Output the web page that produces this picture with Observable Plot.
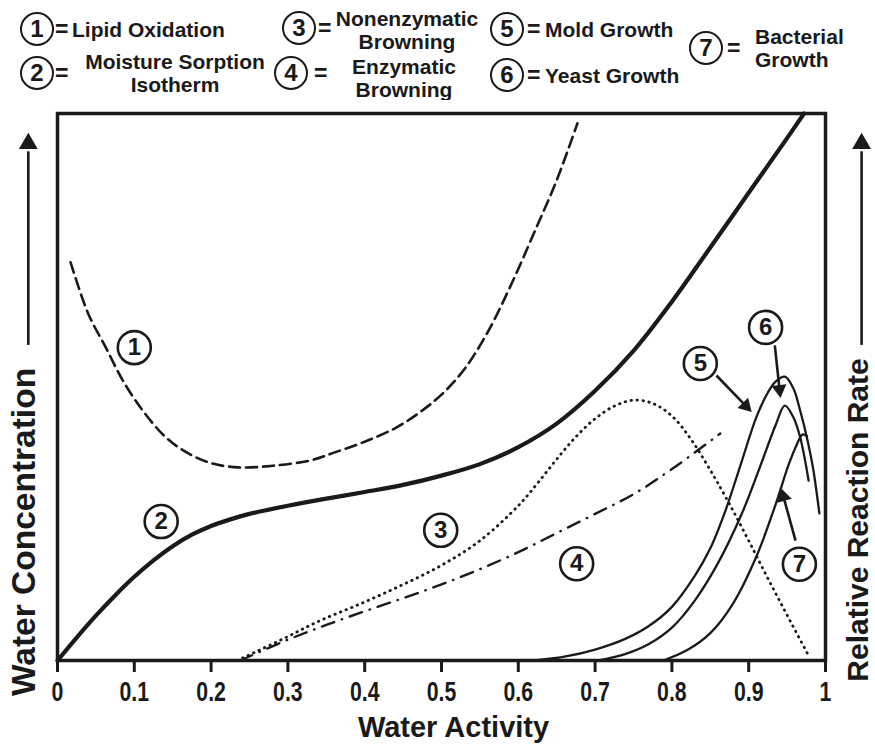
<!DOCTYPE html>
<html><head><meta charset="utf-8">
<script src="https://cdn.jsdelivr.net/npm/d3@7"></script>
<script src="https://cdn.jsdelivr.net/npm/@observablehq/plot@0.6"></script>
<style>
body{margin:0;background:#fff;}
#wrap{position:relative;width:875px;height:754px;font-family:"Liberation Sans",Arial,Helvetica,sans-serif;font-weight:bold;color:#1a1a1a;overflow:hidden;}
#legend{position:absolute;left:0;top:0;width:875px;height:100px;}
.c{position:absolute;box-sizing:border-box;width:34px;height:34px;border:2.6px solid #1a1a1a;border-radius:50%;text-align:center;line-height:29px;font-size:24px;transform:translate(-50%,-50%);}
.eq{position:absolute;font-size:23px;transform:translateY(-50%);line-height:23px;}
.t{position:absolute;font-size:21px;line-height:23px;white-space:nowrap;transform:translateY(-50%);}
#chart{position:absolute;left:0;top:100px;}
</style></head><body>
<div id="wrap"><div id="legend"></div><div id="chart"></div></div>
<script>
// ---------- data (water activity, relative value 0-100) ----------
const legendNumbers = ["1","2","3","4","5","6","7"];
const legendNames = [["Lipid Oxidation"],["Moisture Sorption","Isotherm"],["Nonenzymatic","Browning"],["Enzymatic","Browning"],["Mold Growth"],["Yeast Growth"],["Bacterial","Growth"]];

const lipidOxidation = [[0.017,72.8],[0.040,63.4],[0.063,57.2],[0.085,51.2],[0.111,45.7],[0.141,40.8],[0.171,37.8],[0.202,36.0],[0.236,35.3],[0.280,35.6],[0.330,36.6],[0.360,38.0],[0.400,40.0],[0.440,42.5],[0.470,45.2],[0.500,48.6],[0.530,53.3],[0.560,60.0],[0.590,68.5],[0.620,78.0],[0.650,87.8],[0.677,98.2]];
const sorptionIsotherm = [[0,0],[0.025,4.2],[0.050,8.2],[0.075,11.9],[0.100,15.3],[0.125,18.3],[0.150,20.9],[0.175,23.0],[0.200,24.6],[0.225,25.8],[0.250,26.8],[0.300,28.3],[0.350,29.6],[0.400,30.8],[0.450,32.1],[0.500,33.8],[0.550,35.9],[0.600,39.0],[0.650,43.3],[0.700,49.3],[0.750,56.6],[0.800,65.6],[0.850,75.5],[0.900,85.5],[0.950,95.5],[0.972,100]];
const nonenzymaticBrowning = [[0.234,0],[0.290,3.7],[0.342,7.3],[0.395,10.4],[0.447,13.7],[0.500,17.4],[0.550,21.9],[0.600,28.3],[0.625,32.4],[0.650,36.8],[0.675,40.9],[0.700,44.2],[0.725,46.5],[0.750,47.6],[0.775,47.0],[0.800,44.7],[0.825,40.4],[0.850,34.8],[0.875,28.6],[0.900,21.9],[0.925,15.0],[0.950,8.3],[0.978,0.9]];
const enzymaticBrowning = [[0.238,0],[0.300,3.8],[0.350,6.5],[0.400,9.0],[0.450,11.4],[0.500,13.9],[0.550,16.7],[0.600,19.8],[0.650,23.3],[0.700,26.8],[0.750,30.4],[0.800,35.0],[0.863,41.5]];
const moldGrowth = [[0.620,0],[0.660,0.7],[0.700,2.0],[0.740,4.0],[0.770,6.3],[0.800,9.8],[0.830,15.5],[0.850,20.5],[0.870,27.5],[0.890,36.0],[0.910,44.5],[0.925,49.0],[0.935,51.0],[0.947,51.9],[0.958,49.8],[0.967,45.7],[0.977,40.0],[0.984,35.0],[0.992,26.9]];
const yeastGrowth = [[0.705,0],[0.740,1.2],[0.770,3.0],[0.800,6.0],[0.830,11.0],[0.860,17.8],[0.890,26.5],[0.915,35.5],[0.935,43.0],[0.947,46.6],[0.958,44.5],[0.967,40.8],[0.978,32.9]];
const bacterialGrowth = [[0.789,0],[0.820,1.9],[0.850,5.0],[0.880,10.5],[0.910,19.0],[0.935,28.5],[0.952,35.8],[0.963,39.6],[0.970,41.3],[0.976,41.0]];

const xTicks = [0,0.1,0.2,0.3,0.4,0.5,0.6,0.7,0.8,0.9,1];
const xTickLabels = ["0","0.1","0.2","0.3","0.4","0.5","0.6","0.7","0.8","0.9","1"];

// circled curve numbers inside the plot (water activity, value)
const curveLabels = [{n:"1",x:0.100,y:57.2},{n:"2",x:0.135,y:25.4},{n:"3",x:0.499,y:23.8},{n:"4",x:0.676,y:17.7},{n:"5",x:0.837,y:54.3},{n:"6",x:0.922,y:60.9},{n:"7",x:0.966,y:17.6}];
const pointerFrom = [[0.858,52.1],[0.934,57.6],[0.961,21.9]];
const pointerTo = [[0.902,45.7],[0.941,48.4],[0.943,31.1]];

const xLabel = "Water Activity";
const yLabelLeft = "Water Concentration";
const yLabelRight = "Relative Reaction Rate";

// ---------- layout ----------
const W = 875, H = 654, mT = 13, mB = 94, mL = 57, mR = 50;
const sx = W - mL - mR, sy = (H - mT - mB) / 100;
const INK = "#1a1a1a";

// legend (HTML, above the SVG)
const legendLayout = [
  {c:[37,29], eq:55, t:72, ty:29, align:"left"},
  {c:[37,73], eq:55, t:175, ty:73, align:"center"},
  {c:[299,28], eq:318, t:407, ty:30, align:"center"},
  {c:[291,73], eq:314, t:404, ty:78, align:"center"},
  {c:[507,29], eq:527, t:545, ty:29, align:"left"},
  {c:[507,75], eq:527, t:545, ty:75, align:"left"},
  {c:[706,48], eq:727, t:755, ty:48, align:"left"}
];
const leg = document.getElementById("legend");
legendNumbers.forEach((n, i) => {
  const L = legendLayout[i];
  const c = document.createElement("div"); c.className = "c"; c.textContent = n;
  c.style.left = L.c[0] + "px"; c.style.top = L.c[1] + "px"; leg.appendChild(c);
  const e = document.createElement("div"); e.className = "eq"; e.textContent = "=";
  e.style.left = L.eq + "px"; e.style.top = L.c[1] + "px"; leg.appendChild(e);
  const t = document.createElement("div"); t.className = "t";
  t.innerHTML = legendNames[i].join("<br>");
  t.style.top = L.ty + "px"; t.style.textAlign = L.align;
  t.style.left = L.t + "px";
  if (L.align === "center") t.style.transform = "translate(-50%,-50%)";
  leg.appendChild(t);
});

// arrowheads: filled triangles placed back from the tip along the pointer direction
function headOf(from, to, r) {
  const dx = (to[0] - from[0]) * sx, dy = -(to[1] - from[1]) * sy;
  const len = Math.hypot(dx, dy), ux = dx / len, uy = dy / len;
  const back = 2 * Math.sqrt(Math.PI * r * r / (3 * Math.sqrt(3)));
  return {x: to[0] - ux * back * 0.75 / sx, y: to[1] + uy * back * 0.75 / sy, rot: Math.atan2(ux, -uy) * 180 / Math.PI};
}
const pointers = pointerFrom.map((f, i) => ({from: f, to: pointerTo[i], head: headOf(f, pointerTo[i], 5.5)}));

const lineOpts = {x: d => d[0], y: d => d[1], curve: "catmull-rom", stroke: INK};

const chart = Plot.plot({
  width: W, height: H,
  marginTop: mT, marginBottom: mB, marginLeft: mL, marginRight: mR,
  x: {domain: [0, 1]},
  y: {domain: [0, 100], axis: null},
  style: {fontFamily: "'Liberation Sans', Arial, Helvetica, sans-serif", fontWeight: "bold", color: INK, background: "white", overflow: "visible"},
  marks: [
    Plot.line(sorptionIsotherm, {...lineOpts, strokeWidth: 4.2}),
    Plot.line(lipidOxidation, {...lineOpts, strokeWidth: 2.6, strokeDasharray: "11 6"}),
    Plot.line(nonenzymaticBrowning, {...lineOpts, strokeWidth: 2.8, strokeDasharray: "0.5 5.5", strokeLinecap: "round"}),
    Plot.line(enzymaticBrowning, {...lineOpts, strokeWidth: 2.4, strokeDasharray: "13 8 0.5 8", strokeLinecap: "round"}),
    Plot.line(moldGrowth, {...lineOpts, strokeWidth: 2.3}),
    Plot.line(yeastGrowth, {...lineOpts, strokeWidth: 2.3}),
    Plot.line(bacterialGrowth, {...lineOpts, strokeWidth: 2.3}),
    Plot.frame({stroke: INK, strokeWidth: 3.5}),
    Plot.axisX({ticks: xTicks, tickSize: 12, tickPadding: 9, strokeWidth: 3, stroke: INK,
      tickFormat: (d, i) => xTickLabels[i], fontSize: 28, fill: INK, label: null, ariaLabel: "x-axis"}),
    Plot.text([xLabel], {frameAnchor: "bottom", dy: 67, dx: 12, fontSize: 29, fill: INK, lineAnchor: "middle", textAnchor: "middle"}),
    Plot.text([yLabelLeft], {frameAnchor: "left", rotate: -90, dx: -33, dy: 145, fontSize: 33.5, fill: INK, textAnchor: "middle", lineAnchor: "middle"}),
    Plot.text([yLabelRight], {frameAnchor: "right", rotate: -90, dx: 33, dy: 133, fontSize: 30, fill: INK, textAnchor: "middle", lineAnchor: "middle"}),
    // axis direction arrows
    Plot.ruleX([-0.038, 1.047], {x: d => d, y1: 57.6, y2: 93, stroke: INK, strokeWidth: 2.6}),
    Plot.dot([-0.038, 1.047], {x: d => d, y: 94.5, symbol: "triangle", r: 7, fill: INK, stroke: null}),
    // pointer arrows
    Plot.link(pointers, {x1: d => d.from[0], y1: d => d.from[1], x2: d => d.head.x, y2: d => d.head.y, stroke: INK, strokeWidth: 2.6}),
    Plot.dot(pointers, {x: d => d.head.x, y: d => d.head.y, rotate: d => d.head.rot, symbol: "triangle", r: 5.5, fill: INK, stroke: null}),
    // circled numbers
    Plot.dot(curveLabels, {x: "x", y: "y", r: 16.5, fill: "white", stroke: INK, strokeWidth: 2.6}),
    Plot.text(curveLabels, {x: "x", y: "y", text: "n", fontSize: 24, fill: INK})
  ]
});
// condense the tick numerals like the reference's narrow digits
chart.querySelectorAll('g[aria-label="x-axis tick label"] text').forEach(t => {
  const tr = t.getAttribute("transform") || "";
  t.setAttribute("transform", tr + " scale(0.76,1)");
});
document.getElementById("chart").appendChild(chart);
</script>
</body></html>
